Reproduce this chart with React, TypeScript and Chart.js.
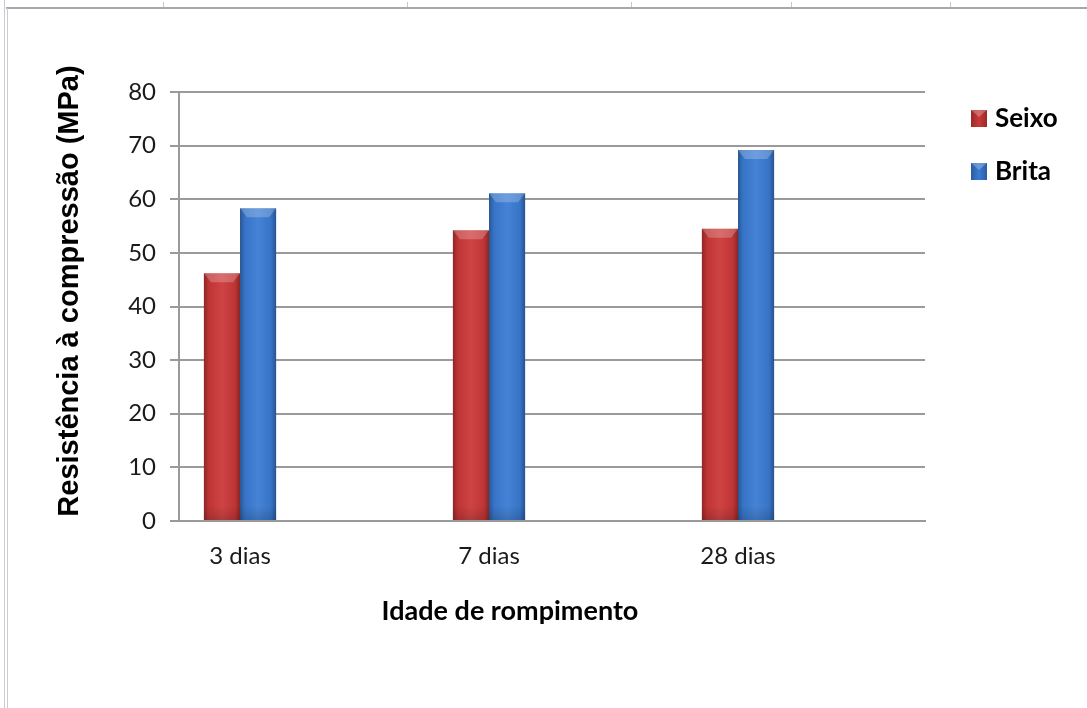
import React, { useEffect, useRef } from "react";
import { Chart, registerables } from "chart.js";

Chart.register(...registerables);

const categories = ["3 dias", "7 dias", "28 dias"];
const seriesNames = ["Seixo", "Brita"];
const seixoValues = [46.2, 54.2, 54.5];
const britaValues = [58.3, 61.1, 69.2];
const seriesColors = ["#CB3838", "#3A7BD3"];
const yMin = 0;
const yMax = 80;
const yStep = 10;
const xTitle = "Idade de rompimento";
const yTitle = "Resistência à compressão (MPa)";

const TICK_FONT = "'Lato', sans-serif";

const framePlugin = {
  id: "frame",
  beforeDraw(chart: any) {
    const ctx = chart.ctx;
    ctx.save();
    ctx.fillStyle = "#FFFFFF";
    ctx.fillRect(0, 0, chart.width, chart.height);
    ctx.strokeStyle = "#A8A8A8";
    ctx.lineWidth = 2;
    ctx.beginPath();
    ctx.moveTo(6, 8);
    ctx.lineTo(chart.width, 8);
    ctx.stroke();
    ctx.strokeStyle = "#C8CCD4";
    ctx.lineWidth = 1;
    ctx.beginPath();
    ctx.moveTo(4.5, 0);
    ctx.lineTo(4.5, chart.height);
    ctx.moveTo(7.5, 8);
    ctx.lineTo(7.5, chart.height);
    ctx.stroke();
    ctx.strokeStyle = "#C8C8C8";
    [163, 407, 631, 791, 950].forEach((x) => {
      ctx.beginPath();
      ctx.moveTo(x + 0.5, 2);
      ctx.lineTo(x + 0.5, 7);
      ctx.stroke();
    });
    ctx.restore();
  },
};

const bevelPlugin = {
  id: "bevel",
  afterDatasetsDraw(chart: any) {
    const ctx = chart.ctx;
    ctx.save();
    chart.data.datasets.forEach((_: any, di: number) => {
      const meta = chart.getDatasetMeta(di);
      meta.data.forEach((el: any) => {
        const { x, y, base, width } = el.getProps(["x", "y", "base", "width"], true);
        const left = x - width / 2;
        const right = x + width / 2;
        const top = Math.min(y, base);
        const bottom = Math.max(y, base);
        const h = bottom - top;
        const g = ctx.createLinearGradient(left, 0, right, 0);
        g.addColorStop(0, "rgba(0,0,0,0.30)");
        g.addColorStop(0.14, "rgba(0,0,0,0.06)");
        g.addColorStop(0.5, "rgba(255,255,255,0.06)");
        g.addColorStop(0.86, "rgba(0,0,0,0.06)");
        g.addColorStop(1, "rgba(0,0,0,0.32)");
        ctx.fillStyle = g;
        ctx.fillRect(left, top, width, h);
        const gb = ctx.createLinearGradient(0, bottom - 14, 0, bottom);
        gb.addColorStop(0, "rgba(0,0,0,0)");
        gb.addColorStop(1, "rgba(0,0,0,0.15)");
        ctx.fillStyle = gb;
        ctx.fillRect(left, bottom - 14, width, 14);
        ctx.fillStyle = "rgba(255,255,255,0.22)";
        ctx.beginPath();
        ctx.moveTo(left, top);
        ctx.lineTo(right, top);
        ctx.lineTo(right - 7, top + 9);
        ctx.lineTo(left + 7, top + 9);
        ctx.closePath();
        ctx.fill();
      });
    });
    ctx.restore();
  },
};

const titlesPlugin = {
  id: "axisTitles",
  afterDraw(chart: any) {
    const ctx = chart.ctx;
    ctx.save();
    ctx.fillStyle = "#000000";
    ctx.textAlign = "center";
    ctx.textBaseline = "alphabetic";
    ctx.font = "bold 27px 'Lato', sans-serif";
    ctx.fillText(xTitle, 510, 620);
    ctx.translate(78, 291);
    ctx.rotate(-Math.PI / 2);
    ctx.font = "bold 29px 'Liberation Sans', sans-serif";
    ctx.fillText(yTitle, 0, 0);
    ctx.restore();
  },
};

const legendPlugin = {
  id: "customLegend",
  afterDraw(chart: any) {
    const ctx = chart.ctx;
    ctx.save();
    chart.data.datasets.forEach((ds: any, i: number) => {
      const bx = 971;
      const by = 110 + i * 53;
      const g = ctx.createLinearGradient(bx, 0, bx + 16, 0);
      g.addColorStop(0, "rgba(0,0,0,0.25)");
      g.addColorStop(0.5, "rgba(0,0,0,0)");
      g.addColorStop(1, "rgba(0,0,0,0.25)");
      ctx.fillStyle = ds.backgroundColor;
      ctx.fillRect(bx, by, 16, 17);
      ctx.fillStyle = g;
      ctx.fillRect(bx, by, 16, 17);
      ctx.fillStyle = "rgba(255,255,255,0.25)";
      ctx.beginPath();
      ctx.moveTo(bx, by);
      ctx.lineTo(bx + 16, by);
      ctx.lineTo(bx + 8, by + 7);
      ctx.closePath();
      ctx.fill();
      ctx.fillStyle = "#000000";
      ctx.font = "bold 26px 'Lato', sans-serif";
      ctx.textBaseline = "alphabetic";
      ctx.textAlign = "left";
      ctx.fillText(ds.label, 995, by + 17);
    });
    ctx.restore();
  },
};

export default function App() {
  const canvasRef = useRef<HTMLCanvasElement | null>(null);

  useEffect(() => {
    if (!canvasRef.current) return;
    const chart = new Chart(canvasRef.current, {
      type: "bar",
      data: {
        datasets: [
          {
            label: seriesNames[0],
            data: seixoValues.map((v, i) => ({ x: i, y: v })),
            backgroundColor: seriesColors[0],
            barPercentage: 1,
            categoryPercentage: 0.29,
          },
          {
            label: seriesNames[1],
            data: britaValues.map((v, i) => ({ x: i, y: v })),
            backgroundColor: seriesColors[1],
            barPercentage: 1,
            categoryPercentage: 0.29,
          },
        ],
      },
      options: {
        responsive: false,
        animation: false,
        layout: { padding: { left: 0, right: 162, top: 92, bottom: 0 } },
        plugins: {
          legend: { display: false },
          tooltip: { enabled: false },
        },
        scales: {
          x: {
            type: "linear",
            offset: false,
            min: -0.245,
            max: 2.751,
            grid: { display: false, drawTicks: false, offset: false },
            border: { display: true, color: "#9A9A9A", width: 2 },
            afterBuildTicks: (s: any) => {
              s.ticks = categories.map((_, i) => ({ value: i }));
            },
            ticks: {
              color: "#1A1A1A",
              font: { family: TICK_FONT, size: 24 },
              padding: 21,
              autoSkip: false,
              maxRotation: 0,
              callback: (v: any) => categories[Math.round(Number(v))] ?? "",
            },
            afterFit: (s: any) => {
              s.height = 187;
            },
          },
          y: {
            min: yMin,
            max: yMax,
            ticks: {
              stepSize: yStep,
              color: "#1A1A1A",
              font: { family: TICK_FONT, size: 24 },
              padding: 14,
            },
            grid: { color: "#9A9A9A", lineWidth: 2, tickLength: 9, drawTicks: true },
            border: { display: true, color: "#9A9A9A", width: 2 },
            afterFit: (s: any) => {
              s.width = 179;
            },
          },
        },
      },
      plugins: [framePlugin, bevelPlugin, titlesPlugin, legendPlugin],
    });
    return () => chart.destroy();
  }, []);

  return (
    <div style={{ position: "absolute", left: 0, top: 0, width: 1087, height: 708 }}>
      <canvas ref={canvasRef} width={1087} height={708} style={{ display: "block" }} />
    </div>
  );
}
